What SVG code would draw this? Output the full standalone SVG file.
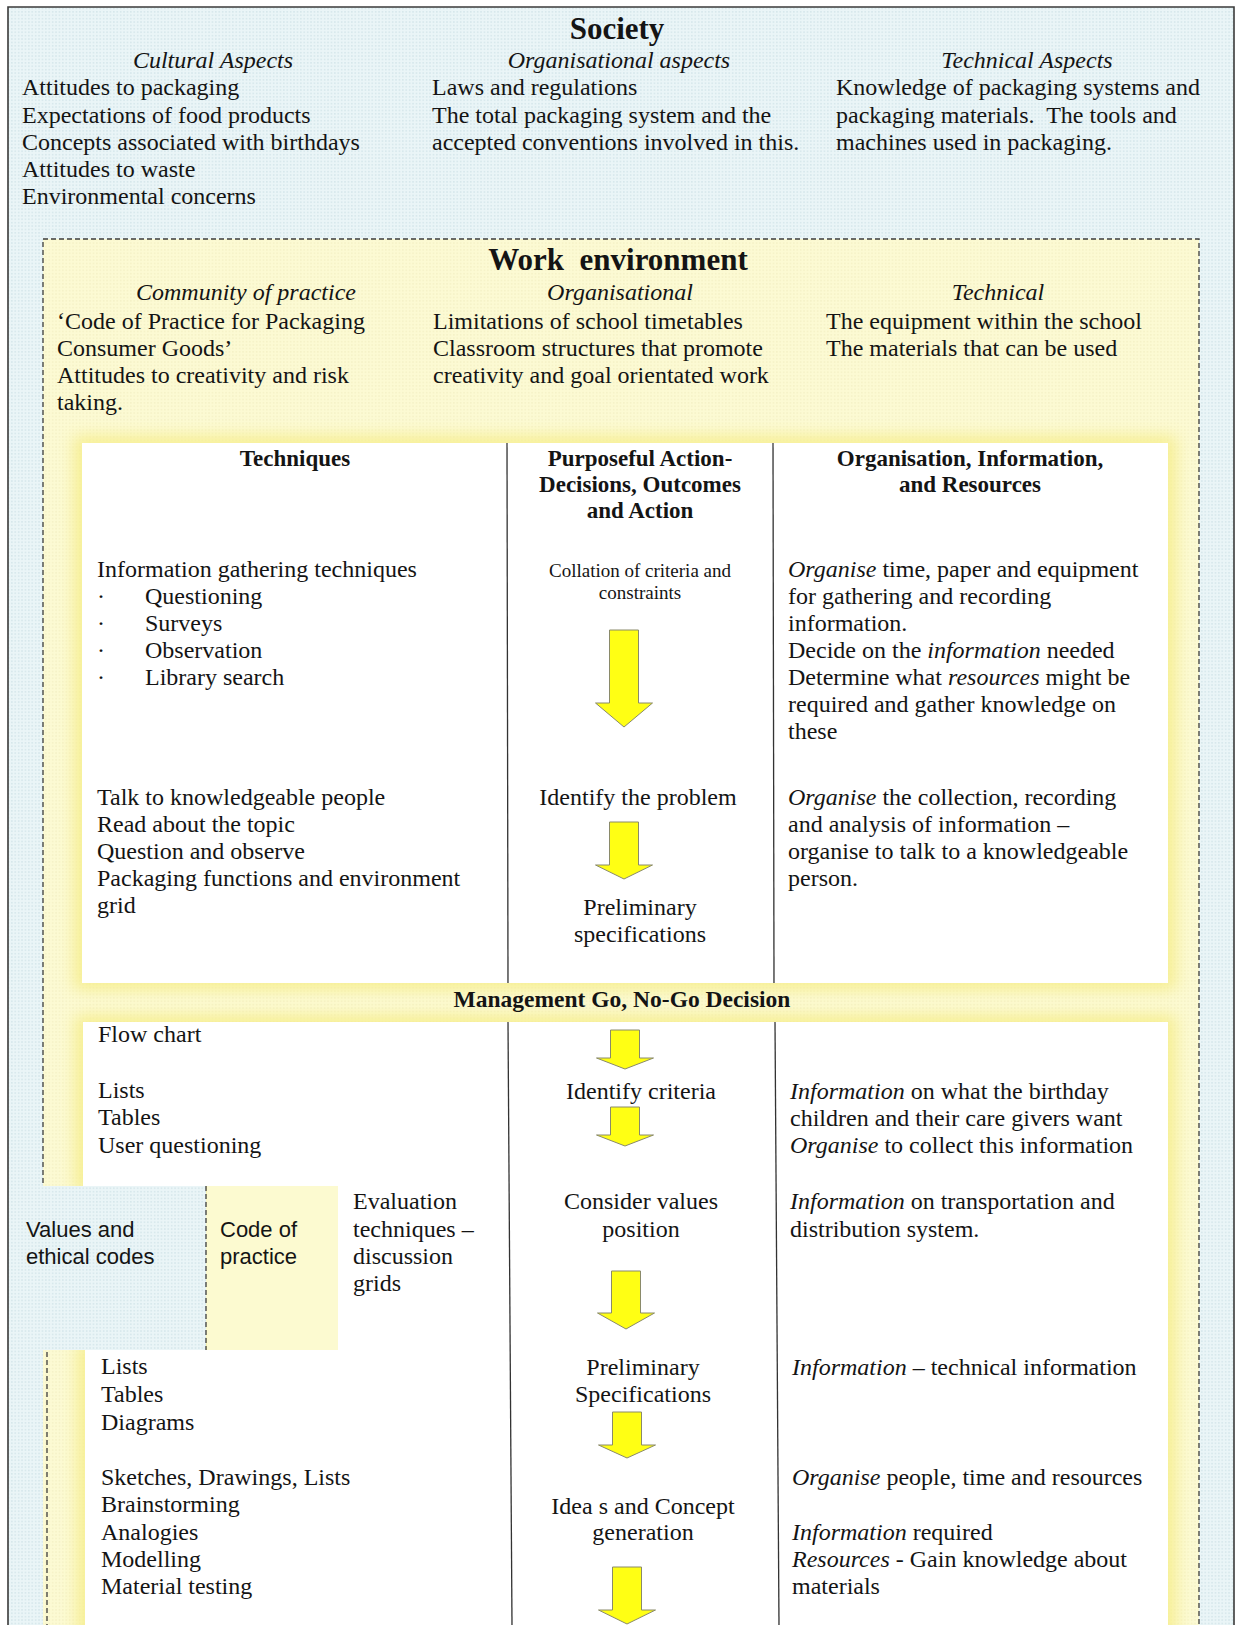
<svg xmlns="http://www.w3.org/2000/svg" width="1245" height="1625" viewBox="0 0 1245 1625">
  <style>
    text { font-family: "Liberation Serif", "Times New Roman", serif; font-size: 24px; fill: #141414; }
    .c { text-anchor: middle; }
    .i { font-style: italic; }
    .title { font-weight: bold; font-size: 31px; }
    .hd { font-weight: bold; font-size: 23px; }
    .sm { font-size: 19px; }
    .sans { font-family: "Liberation Sans", Arial, sans-serif; font-size: 22px; }
    .frame { fill: none; stroke: #3a3a3a; stroke-width: 1.6; }
    .dash { fill: none; stroke: #3c3c3c; stroke-width: 1.3; stroke-dasharray: 5 3; }
    .rule { stroke: #333; stroke-width: 1.3; }
    .arrow { fill: #ffff14; stroke: #8a8a6a; stroke-width: 1; stroke-linejoin: miter; }
  </style>
  <defs>
    <pattern id="dotsCyan" width="3.4" height="3.4" patternUnits="userSpaceOnUse">
      <rect width="3.4" height="3.4" fill="#eaf5f7"/>
      <rect x="1" y="1" width="1.3" height="1.3" fill="#cde1e6"/>
    </pattern>
    <pattern id="dotsYellow" width="3.4" height="3.4" patternUnits="userSpaceOnUse">
      <rect width="3.4" height="3.4" fill="#fcfad3"/>
      <rect x="1" y="1" width="1.3" height="1.3" fill="#f3efc2"/>
    </pattern>
    <filter id="soft" x="-10%" y="-10%" width="120%" height="120%">
      <feGaussianBlur stdDeviation="8"/>
    </filter>
  </defs>

  <rect width="1245" height="1625" fill="#ffffff"/>

  <!-- Society: outer frame -->
  <g id="society">
    <rect x="8" y="7" width="1226" height="1640" fill="url(#dotsCyan)"/>
    <path class="frame" d="M8,1625 V7 H1234 V1625"/>
    <text class="title c" x="617" y="39">Society</text>
    <text class="i c" x="213" y="68">Cultural Aspects</text>
    <text class="i c" x="619" y="68">Organisational aspects</text>
    <text class="i c" x="1027" y="68">Technical Aspects</text>
    <text x="22" y="95">Attitudes to packaging</text>
    <text x="22" y="123">Expectations of food products</text>
    <text x="22" y="150">Concepts associated with birthdays</text>
    <text x="22" y="177">Attitudes to waste</text>
    <text x="22" y="204">Environmental concerns</text>
    <text x="432" y="95">Laws and regulations</text>
    <text x="432" y="123">The total packaging system and the</text>
    <text x="432" y="150">accepted conventions involved in this.</text>
    <text x="836" y="95">Knowledge of packaging systems and</text>
    <text x="836" y="123">packaging materials.&#160; The tools and</text>
    <text x="836" y="150">machines used in packaging.</text>
  </g>

  <!-- Work environment: dashed inner frame -->
  <g id="work-environment">
    <rect x="43" y="239" width="1156" height="1400" fill="url(#dotsYellow)"/>
    <path class="dash" d="M43,1183 V239 H1199 V1625"/>
    <path class="dash" d="M47,1352 V1625"/>
    <text class="title c" x="618" y="270">Work&#160; environment</text>
    <text class="i c" x="246" y="300">Community of practice</text>
    <text class="i c" x="620" y="300">Organisational</text>
    <text class="i c" x="998" y="300">Technical</text>
    <text x="57" y="329">‘Code of Practice for Packaging</text>
    <text x="57" y="356">Consumer Goods’</text>
    <text x="57" y="383">Attitudes to creativity and risk</text>
    <text x="57" y="410">taking.</text>
    <text x="433" y="329">Limitations of school timetables</text>
    <text x="433" y="356">Classroom structures that promote</text>
    <text x="433" y="383">creativity and goal orientated work</text>
    <text x="826" y="329">The equipment within the school</text>
    <text x="826" y="356">The materials that can be used</text>
  </g>

  <!-- Table body: yellow halo behind the white cells -->
  <g id="table">
    <g filter="url(#soft)" fill="#f6ee8c" opacity="0.9">
      <rect x="74" y="436" width="1102" height="554"/>
      <path d="M75,1015 H1176 V1640 H77 V1343 H330 V1193 H75 Z"/>
    </g>
    <rect x="82" y="443" width="1086" height="540" fill="#ffffff"/>
    <path d="M83,1022 H1168 V1640 H85 V1350 H338 V1186 H83 Z" fill="#ffffff"/>
    <line class="rule" x1="507" y1="443" x2="508" y2="983"/>
    <line class="rule" x1="773" y1="443" x2="774" y2="983"/>
    <line class="rule" x1="508" y1="1022" x2="512" y2="1625"/>
    <line class="rule" x1="775" y1="1022" x2="779" y2="1625"/>
  </g>

  <!-- Column: Techniques -->
  <g id="techniques">
    <text class="hd c" x="295" y="466">Techniques</text>
    <text x="97" y="577">Information gathering techniques</text>
    <text x="97" y="604">·</text><text x="145" y="604">Questioning</text>
    <text x="97" y="631">·</text><text x="145" y="631">Surveys</text>
    <text x="97" y="658">·</text><text x="145" y="658">Observation</text>
    <text x="97" y="685">·</text><text x="145" y="685">Library search</text>
    <text x="97" y="805">Talk to knowledgeable people</text>
    <text x="97" y="832">Read about the topic</text>
    <text x="97" y="859">Question and observe</text>
    <text x="97" y="886">Packaging functions and environment</text>
    <text x="97" y="913">grid</text>
    <text x="98" y="1042">Flow chart</text>
    <text x="98" y="1098">Lists</text>
    <text x="98" y="1125">Tables</text>
    <text x="98" y="1153">User questioning</text>
    <text x="353" y="1209">Evaluation</text>
    <text x="353" y="1237">techniques –</text>
    <text x="353" y="1264">discussion</text>
    <text x="353" y="1291">grids</text>
    <text x="101" y="1374">Lists</text>
    <text x="101" y="1402">Tables</text>
    <text x="101" y="1430">Diagrams</text>
    <text x="101" y="1485">Sketches, Drawings, Lists</text>
    <text x="101" y="1512">Brainstorming</text>
    <text x="101" y="1540">Analogies</text>
    <text x="101" y="1567">Modelling</text>
    <text x="101" y="1594">Material testing</text>
  </g>

  <!-- Values and ethical codes -->
  <g id="values">
    <rect x="9" y="1186" width="197" height="164" fill="url(#dotsCyan)"/>
    <line class="dash" x1="206" y1="1186" x2="206" y2="1350"/>
    <text class="sans" x="26" y="1237">Values and</text>
    <text class="sans" x="26" y="1264">ethical codes</text>
  </g>

  <!-- Code of practice -->
  <g id="code-of-practice">
    <rect x="207" y="1186" width="131" height="164" fill="#fcfad0"/>
    <text class="sans" x="220" y="1237">Code of</text>
    <text class="sans" x="220" y="1264">practice</text>
  </g>

  <!-- Column: Purposeful action -->
  <g id="purposeful-action">
    <text class="hd c" x="640" y="466">Purposeful Action-</text>
    <text class="hd c" x="640" y="492">Decisions, Outcomes</text>
    <text class="hd c" x="640" y="518">and Action</text>
    <text class="sm c" x="640" y="577">Collation of criteria and</text>
    <text class="sm c" x="640" y="599">constraints</text>
    <text class="c" x="638" y="805">Identify the problem</text>
    <text class="c" x="640" y="915">Preliminary</text>
    <text class="c" x="640" y="942">specifications</text>
    <text class="c" x="641" y="1099">Identify criteria</text>
    <text class="c" x="641" y="1209">Consider values</text>
    <text class="c" x="641" y="1237">position</text>
    <text class="c" x="643" y="1375">Preliminary</text>
    <text class="c" x="643" y="1402">Specifications</text>
    <text class="c" x="643" y="1514">Idea s and Concept</text>
    <text class="c" x="643" y="1540">generation</text>
  </g>

  <!-- Management decision band -->
  <g id="management-decision">
    <text class="hd c" x="622" y="1007" style="font-size:23.5px">Management Go, No-Go Decision</text>
  </g>

  <!-- Column: Organisation, information and resources -->
  <g id="organisation">
    <text class="hd c" x="970" y="466">Organisation, Information,</text>
    <text class="hd c" x="970" y="492">and Resources</text>
    <text x="788" y="577"><tspan class="i">Organise</tspan> time, paper and equipment</text>
    <text x="788" y="604">for gathering and recording</text>
    <text x="788" y="631">information.</text>
    <text x="788" y="658">Decide on the <tspan class="i">information</tspan> needed</text>
    <text x="788" y="685">Determine what <tspan class="i">resources</tspan> might be</text>
    <text x="788" y="712">required and gather knowledge on</text>
    <text x="788" y="739">these</text>
    <text x="788" y="805"><tspan class="i">Organise</tspan> the collection, recording</text>
    <text x="788" y="832">and analysis of information –</text>
    <text x="788" y="859">organise to talk to a knowledgeable</text>
    <text x="788" y="886">person.</text>
    <text x="790" y="1099"><tspan class="i">Information</tspan> on what the birthday</text>
    <text x="790" y="1126">children and their care givers want</text>
    <text x="790" y="1153"><tspan class="i">Organise</tspan> to collect this information</text>
    <text x="790" y="1209"><tspan class="i">Information</tspan> on transportation and</text>
    <text x="790" y="1237">distribution system.</text>
    <text x="792" y="1375"><tspan class="i">Information</tspan> – technical information</text>
    <text x="792" y="1485"><tspan class="i">Organise</tspan> people, time and resources</text>
    <text x="792" y="1540"><tspan class="i">Information</tspan> required</text>
    <text x="792" y="1567"><tspan class="i">Resources</tspan> - Gain knowledge about</text>
    <text x="792" y="1594">materials</text>
  </g>

  <!-- Flow arrows between the steps -->
  <g id="connectors">
    <path class="arrow" d="M609.5,630 H638.5 V703 H652.5 L624,727 L595.5,703 H609.5 Z"/>
    <path class="arrow" d="M609.5,822 H638.5 V865 H652.5 L624,879 L595.5,865 H609.5 Z"/>
    <path class="arrow" d="M610.5,1030 H639.5 V1058 H653.5 L625,1069 L596.5,1058 H610.5 Z"/>
    <path class="arrow" d="M610.5,1107 H639.5 V1135 H653.5 L625,1146 L596.5,1135 H610.5 Z"/>
    <path class="arrow" d="M611.5,1271 H640.5 V1313 H654.5 L626,1329 L597.5,1313 H611.5 Z"/>
    <path class="arrow" d="M612.5,1412 H641.5 V1445 H655.5 L627,1458 L598.5,1445 H612.5 Z"/>
    <path class="arrow" d="M612.5,1567 H641.5 V1610 H655.5 L627,1624 L598.5,1610 H612.5 Z"/>
  </g>
</svg>
